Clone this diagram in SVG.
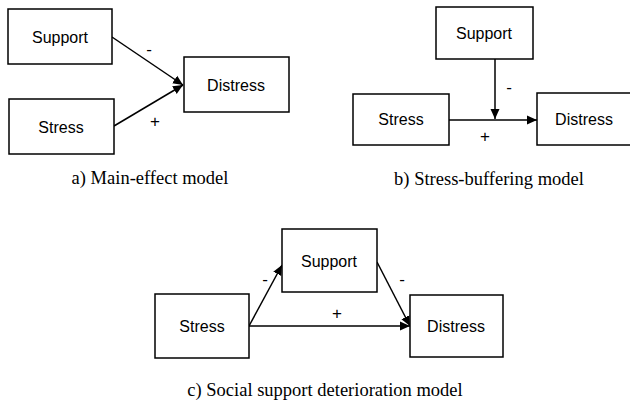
<svg xmlns="http://www.w3.org/2000/svg" width="630" height="403" viewBox="0 0 630 403">
<style>
.box{fill:#fff;stroke:#000;stroke-width:1.5}
.lbl{font-family:"Liberation Sans",Arial,sans-serif;font-size:16px;text-anchor:middle;fill:#000}
.sign{font-family:"Liberation Sans",Arial,sans-serif;font-size:17px;text-anchor:middle;fill:#000}
.cap{font-family:"Liberation Serif","Times New Roman",serif;font-size:18.5px;text-anchor:middle;fill:#000}
.edge{stroke:#000;stroke-width:1.5;fill:none}
</style>
<defs>
<marker id="ah" markerUnits="userSpaceOnUse" markerWidth="11" markerHeight="11" refX="10" refY="5.5" orient="auto">
<path d="M0,1 L10,5.5 L0,10 z" fill="#000"/>
</marker>
</defs>
<rect width="630" height="403" fill="#fff"/>
<g id="connectors">
<line class="edge" x1="112" y1="37" x2="183" y2="85" marker-end="url(#ah)"/>
<line class="edge" x1="114" y1="126" x2="183" y2="85" marker-end="url(#ah)"/>
<line class="edge" x1="495" y1="59" x2="495" y2="119" marker-end="url(#ah)"/>
<line class="edge" x1="449" y1="120" x2="537" y2="120" marker-end="url(#ah)"/>
<line class="edge" x1="249" y1="326" x2="282" y2="265" marker-end="url(#ah)"/>
<line class="edge" x1="377" y1="262" x2="410" y2="326" marker-end="url(#ah)"/>
<line class="edge" x1="249" y1="326" x2="410" y2="326" marker-end="url(#ah)"/>
</g>
<g id="a-support"><rect class="box" x="8" y="9" width="104" height="55"/><text class="lbl" x="60" y="43">Support</text></g>
<g id="a-stress"><rect class="box" x="9" y="99" width="105" height="55"/><text class="lbl" x="61" y="133">Stress</text></g>
<g id="a-distress"><rect class="box" x="184" y="57" width="105" height="55"/><text class="lbl" x="236" y="91">Distress</text></g>
<g id="b-support"><rect class="box" x="436" y="7" width="97" height="52"/><text class="lbl" x="484" y="39">Support</text></g>
<g id="b-stress"><rect class="box" x="353" y="94" width="96" height="51"/><text class="lbl" x="401" y="125">Stress</text></g>
<g id="b-distress"><rect class="box" x="537" y="93" width="96" height="52"/><text class="lbl" x="584" y="125">Distress</text></g>
<g id="c-support"><rect class="box" x="282" y="229" width="95" height="63"/><text class="lbl" x="329" y="267">Support</text></g>
<g id="c-stress"><rect class="box" x="155" y="294" width="94" height="64"/><text class="lbl" x="202" y="332">Stress</text></g>
<g id="c-distress"><rect class="box" x="410" y="295" width="93" height="62"/><text class="lbl" x="456" y="332">Distress</text></g>
<g id="signs">
<text class="sign" x="149" y="55">-</text>
<text class="sign" x="155" y="127">+</text>
<text class="sign" x="509" y="93">-</text>
<text class="sign" x="485" y="142">+</text>
<text class="sign" x="265" y="285">-</text>
<text class="sign" x="402" y="285">-</text>
<text class="sign" x="337" y="319">+</text>
</g>
<g id="captions">
<text class="cap" x="150" y="184">a) Main-effect model</text>
<text class="cap" x="489" y="185">b) Stress-buffering model</text>
<text class="cap" x="325" y="396">c) Social support deterioration model</text>
</g>
</svg>
